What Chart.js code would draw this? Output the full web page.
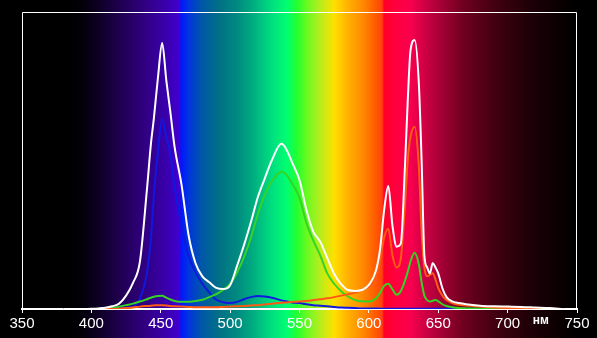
<!DOCTYPE html>
<html>
<head>
<meta charset="utf-8">
<script src="https://cdn.jsdelivr.net/npm/chart.js@4/dist/chart.umd.min.js"></script>
<style>
  html, body { margin: 0; padding: 0; background: #000; }
  #wrap { width: 597px; height: 338px; }
</style>
</head>
<body>
<div id="wrap"><canvas id="spectrum" width="597" height="338"></canvas></div>
<script>
// wavelengths, nm
const wavelengths = [380,390,400,405,410,415,420,425,430,435,440,443,445,448,451,454,457,460,465,470,
  475,480,485,490,495,500,505,510,515,520,525,530,537,540,545,550,555,560,565,570,
  575,580,585,590,595,600,605,608,611,614,617,620,623,626,628,630,633,636,638,640,
  642,644,646,648,650,653,656,660,665,670,680,690,700,710,720,730,740];

// total (white)
const whiteVals = [0,0,0.1,0.2,0.4,0.9,1.8,4.5,8.8,16,40,56,64,78,89.6,77,66,54.5,41.8,25,
  15.5,11,9,7.1,6.7,8,14.5,21.5,29.3,37.7,44,50,55.6,54.2,49,43.4,33.3,26,22.6,17.2,
  11.8,8.4,6.4,6.1,6.4,8.1,12.8,19.9,33.3,41.4,28,21,22,48,70,87,90.6,76,50,18,
  14,12,15.5,14,12,7,4,2.6,2,1.6,1.1,0.9,0.8,0.7,0.5,0.3,0];

// blue channel
const blueVals = [0,0,0,0,0.1,0.2,0.3,0.5,0.8,3.5,12,24,38,53,64,58,52,41,28,18,
  12.5,8.5,5.6,3.1,2.3,2,2.4,3.3,4,4.4,4.2,3.8,2.9,2.6,2.2,2,1.6,1.3,1.1,0.9,
  0.7,0.5,0.4,0.3,0.2,0.2,0.2,0.1,0.1,0.1,0.1,0.1,0.1,0.1,0.1,0.1,0.1,0.1,0.1,0.1,
  0.1,0.1,0.1,0.1,0.1,0.1,0.1,0.1,0.1,0.1,0.1,0.1,0.1,0.1,0.1,0,0];

// green channel
const greenVals = [0,0,0,0,0.1,0.3,0.8,1.3,1.8,2.5,3.3,3.8,4.1,4.4,4.5,3.8,3.2,2.7,2.4,2.4,
  2.7,3.1,4,5,6.5,8.5,12.3,17.5,24,32,38.5,43,46.2,45.5,42,37.5,29,23,18,12,
  8.5,6,4.2,3,2.6,2.5,3.5,5.4,7.8,8.5,6.6,4.8,6,9.5,12.5,16,18.9,15,9,4.5,
  3,2.5,2.8,3,2.6,1.6,1,0.6,0.3,0.2,0.1,0,0,0,0,0,0];

// red channel
const redVals = [0,0,0,0,0,0,0.1,0.3,0.5,0.8,1,1.1,1.2,1.3,1.3,1.2,1,0.9,0.8,0.7,
  0.6,0.6,0.6,0.6,0.7,0.8,0.9,1,1.2,1.3,1.5,1.8,2.1,2.2,2.4,2.5,2.7,3,3.3,3.6,
  4,4.5,5,5.5,6.5,7.5,10,16,24,27,18,14,17,35,50,58,61.4,48,26,14,
  11,11.5,12,10,7,4.5,3,2,1.4,1.2,0.8,0.5,0.3,0.2,0.1,0,0];

const xTicks = [350, 400, 450, 500, 550, 600, 650, 700, 750];
const unitLabel = "нм";

// background spectrum, [wavelength, colour]
const spectrumStops = [
  [350, "#000000"], [385, "#000000"], [395, "#04000c"], [405, "#0e0024"],
  [420, "#1f004e"], [440, "#320086"], [455, "#3a00b0"], [463, "#4000d0"],
  [465, "#0018ff"], [470, "#0034de"], [480, "#0058a6"], [493, "#007284"],
  [505, "#008a80"], [515, "#00a880"], [530, "#00de80"], [541, "#00ff70"],
  [548, "#22ff32"], [555, "#66fa20"], [563, "#a8f020"], [575, "#ffe000"],
  [585, "#ffb000"], [596, "#ff8800"], [605, "#ff5a00"], [609.5, "#ff4010"],
  [611, "#ff0028"], [620, "#ff0040"], [630, "#f8004e"], [644, "#c00040"],
  [668, "#700020"], [692, "#400010"], [716, "#1e0008"], [740, "#080000"],
  [750, "#000000"]
];

function toPoints(vals) {
  return wavelengths.map(function (w, i) { return { x: w, y: vals[i] }; });
}

function lineSet(vals, colour) {
  return {
    data: toPoints(vals),
    borderColor: colour,
    borderWidth: 2,
    pointRadius: 0,
    fill: false,
    cubicInterpolationMode: 'monotone'
  };
}

// paints the spectrum behind everything
const spectrumBackground = {
  id: 'spectrumBackground',
  beforeDraw: function (chart) {
    const ctx = chart.ctx;
    const xs = chart.scales.x;
    const x0 = xs.getPixelForValue(350);
    const x1 = xs.getPixelForValue(750);
    ctx.save();
    ctx.fillStyle = "#000";
    ctx.fillRect(0, 0, chart.width, chart.height);
    const grad = ctx.createLinearGradient(x0, 0, x1, 0);
    spectrumStops.forEach(function (s) {
      grad.addColorStop((s[0] - 350) / 400, s[1]);
    });
    ctx.fillStyle = grad;
    ctx.fillRect(x0, 0, x1 - x0, chart.height);
    ctx.restore();
  }
};

// white frame round the plot and the unit label
const frameAndUnit = {
  id: 'frameAndUnit',
  afterDraw: function (chart) {
    const ctx = chart.ctx;
    const a = chart.chartArea;
    ctx.save();
    ctx.strokeStyle = "#fff";
    ctx.lineWidth = 1;
    ctx.beginPath();
    ctx.moveTo(Math.round(a.left) + 0.5, Math.round(a.bottom));
    ctx.lineTo(Math.round(a.left) + 0.5, Math.round(a.top) + 0.5);
    ctx.lineTo(Math.round(a.right) - 0.5, Math.round(a.top) + 0.5);
    ctx.lineTo(Math.round(a.right) - 0.5, Math.round(a.bottom));
    ctx.stroke();
    ctx.fillStyle = "#fff";
    ctx.font = "bold 12px 'Liberation Sans', Arial, sans-serif";
    ctx.textAlign = "center";
    ctx.textBaseline = "middle";
    ctx.fillText(unitLabel, chart.scales.x.getPixelForValue(724), a.bottom + 12);
    ctx.restore();
  }
};

const chart = new Chart(document.getElementById('spectrum'), {
  type: 'line',
  data: {
    datasets: [
      lineSet(whiteVals, '#ffffff'),
      lineSet(redVals, '#ff5a14'),
      lineSet(greenVals, '#34d424'),
      lineSet(blueVals, '#1018e0')
    ]
  },
  options: {
    responsive: false,
    animation: false,
    devicePixelRatio: 1,
    layout: { padding: { left: 22, right: 20, top: 12, bottom: 0 } },
    plugins: { legend: { display: false }, tooltip: { enabled: false } },
    scales: {
      x: {
        type: 'linear',
        min: 350,
        max: 750,
        afterBuildTicks: function (scale) {
          scale.ticks = xTicks.map(function (v) { return { value: v }; });
        },
        afterFit: function (scale) { scale.height = 29; },
        ticks: {
          color: '#ffffff',
          padding: 2,
          maxRotation: 0,
          autoSkip: false,
          font: { family: "'Liberation Sans Narrow', 'Arial Narrow', 'Liberation Sans', sans-serif", size: 15 }
        },
        grid: {
          drawOnChartArea: false,
          drawTicks: true,
          tickLength: 4,
          color: '#ffffff',
          lineWidth: 1
        },
        border: { display: true, color: '#ffffff', width: 2 }
      },
      y: {
        display: false,
        min: 0,
        max: 100
      }
    }
  },
  plugins: [spectrumBackground, frameAndUnit]
});
</script>
</body>
</html>
